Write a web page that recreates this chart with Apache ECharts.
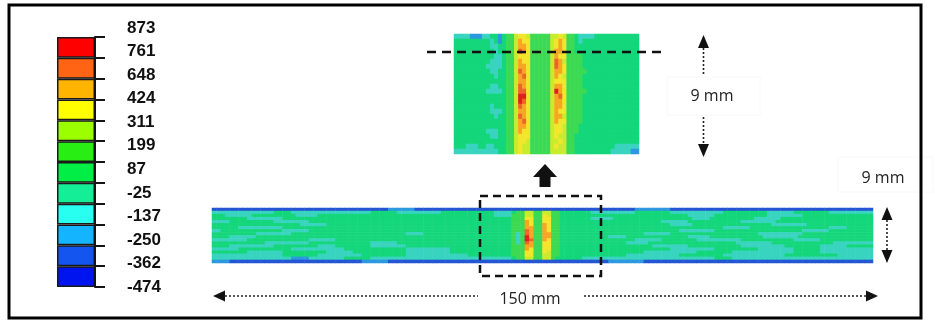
<!DOCTYPE html>
<html><head><meta charset="utf-8">
<script src="https://cdn.jsdelivr.net/npm/echarts@6/dist/echarts.min.js"></script>
<style>html,body{margin:0;padding:0;background:#fff}#c{width:935px;height:326px}</style>
</head><body><div id="c"></div>
<script>
// ---- legend (colour scale) ----
const legendLabels = ['873','761','648','424','311','199','87','-25','-137','-250','-362','-474'];
const legendColors = ['#ff0000','#ff6414','#ffb400','#ffff00','#9cff00','#28ee14','#00ee46','#14ee96','#28fff0','#14b4ff','#1455f0','#0014f0'];
// ---- contour levels: code -> representative stress value -> colour as seen in the plot ----
const levelCodes = '0123456789ab';
const levelValues = [-420,-306,-194,-81,31,143,255,368,536,705,817,873];
const levelBounds = [-474,-362,-250,-137,-25,87,199,311,424,648,761,873];
const levelColors = ['#1224d0','#2456d4','#2c98e0','#38d4c0','#14d67a','#3cda52','#84e232','#c8ec2a','#f2e62a','#f8a622','#f06226','#e01e1e'];

// ---- full strip (150 mm x 9 mm), 150 columns x 18 rows, run-length coded (code:count) ----
const stripRows = [
 '1:40,2:6,1:50,2:8,1:46',
 '3:14,4:4,3:18,4:6,3:10,4:12,3:8,4:14,3:10,4:8,3:12,4:10,3:6,4:8,3:10',
 '4:3,3:6,4:10,3:5,4:40,3:4,4:40,3:6,4:12,3:8,4:16',
 '4:8,3:8,4:70,3:5,4:18,3:4,4:10,3:6,4:21',
 '3:4,4:10,3:8,4:80,3:6,4:12,3:8,4:22',
 '4:20,3:6,4:78,3:5,4:18,3:8,4:15',
 '4:6,3:10,4:100,3:6,4:18,3:4,4:6',
 '3:2,4:14,3:6,4:84,3:8,4:20,3:6,4:10',
 '4:10,3:8,4:26,3:4,4:50,3:6,4:20,3:10,4:16',
 '4:4,3:6,4:80,3:4,4:14,3:5,4:12,3:8,4:17',
 '3:8,4:14,3:6,4:68,3:6,4:8,3:10,4:12,3:6,4:12',
 '4:12,3:10,4:14,3:6,4:52,3:5,4:20,3:8,4:14,3:9',
 '4:4,3:10,4:10,3:4,4:8,3:8,4:56,3:8,4:12,3:10,4:8,3:6,4:6',
 '3:6,4:12,3:12,4:14,3:10,4:50,3:10,4:10,3:8,4:6,3:12',
 '4:8,3:8,4:10,3:6,4:12,3:10,4:44,3:12,4:8,3:14,4:6,3:12',
 '3:16,4:8,3:10,4:10,3:14,4:36,3:12,4:10,3:14,4:12,3:8',
 '3:18,2:4,3:8,4:6,3:40,4:8,3:30,4:4,3:32',
 '2:4,1:30,2:6,1:50,2:8,1:52'
];
// weld lines in the strip: columns 68..79 ('.' keeps the strip value)
const stripWeldStart = 68;
const stripWeld = [
 '............',
 '455775577554',
 '555775587554',
 '555885588554',
 '555985588554',
 '555985598554',
 '555995598554',
 '555a95598554',
 '535a95599554',
 '535b95599554',
 '535ba5598554',
 '535a95588554',
 '555995588554',
 '555985588554',
 '555885587554',
 '555885577554',
 '455775577544',
 '............'
];

// ---- magnified inset: 46 columns x 24 rows (left | weld zone | right) ----
const insetLeft = ['3333222334424','4444444443424','4444444443344','4444444444344','4444444444334','4444444443334','4444444433334','4444444443344','4444444444344','4444444444444','4444444443344','4444444433334','4444444444444','4444444444444','4444444443444','4444444443334','4444444444344','4444444444444','4444444444444','4444444433344','4444444443344','4444444444444','4443334433444','3333333333344'];
const insetWeld = ['557887555557787554333','557988555557898554344','557998555557898554444','557a98555557998554444','557888555557988555544','557988555557a97555544','557998555557a98555544','557a98555557998555554','5579a8555557987555544','557998555557888555544','557a98555557998555544','557aa8555557b98555554','557bb85555579a8555544','557ba8555557998555544','557a98555557998555544','557998555557988555544','557a98555557997555544','5579a8555557988555544','557998555557887555444','557988555557887555444','557888555557877554444','557887555557787554444','557877555557877554444','557877555557777554444'];
const insetRight = ['344444444444','444444444444','444444444444','444444444444','444444444444','444444444444','444444444444','444444444444','444444444444','444444444444','444444444444','444444444444','444444444444','444444444444','444444444444','444444444444','444444444444','444444444444','444444444444','444444444444','444444444444','444444444444','444444333333','444443333322'];

const STRIP_COLS = 150, INSET_COLS = 46;

function decodeRLE(s){
  return s.split(',').map(p => { const [c, n] = p.split(':'); return c.repeat(+n); }).join('');
}
function fit(line, n){ while (line.length < n) line += '4'; return line.slice(0, n); }
function toValue(ch){ return levelValues[levelCodes.indexOf(ch)]; }

const stripData = [];
stripRows.forEach((rle, r) => {
  const base = fit(decodeRLE(rle), STRIP_COLS).split('');
  stripWeld[r].split('').forEach((ch, k) => { if (ch !== '.') base[stripWeldStart + k] = ch; });
  base.forEach((ch, c) => stripData.push([c, r, toValue(ch)]));
});
const insetData = [];
insetLeft.forEach((_, r) => {
  const line = fit(insetLeft[r] + insetWeld[r] + insetRight[r], INSET_COLS);
  line.split('').forEach((ch, c) => insetData.push([c, r, toValue(ch)]));
});

const idx = n => Array.from({length: n}, (_, i) => i);

const pieces = levelColors.map((col, i) => {
  if (i === 0) return {lt: levelBounds[1], color: col};
  if (i === levelColors.length - 1) return {gte: levelBounds[i], color: col};
  return {gte: levelBounds[i], lt: levelBounds[i + 1], color: col};
});

const dotted = {stroke: '#222', lineWidth: 1.6, lineDash: [2, 2]};
const solid = {fill: '#111'};
const labelFont = '16px "Open Sans", sans-serif';

const chart = echarts.init(document.getElementById('c'));
chart.setOption({
  animation: false,
  backgroundColor: '#fff',
  grid: [
    {left: 57, top: 37, width: 38, height: 250, containLabel: false, outerBoundsMode: 'none'},
    {left: 127, top: 28, width: 30, height: 259, containLabel: false, outerBoundsMode: 'none'},
    {left: 212, top: 208, width: 661, height: 55, containLabel: false, outerBoundsMode: 'none'},
    {left: 454, top: 34, width: 185, height: 120, containLabel: false, outerBoundsMode: 'none'}
  ],
  xAxis: [
    {gridIndex: 0, type: 'value', min: 0, max: 1, show: false},
    {gridIndex: 1, type: 'value', min: 0, max: 1, show: false},
    {gridIndex: 2, type: 'category', data: idx(STRIP_COLS), show: false},
    {gridIndex: 3, type: 'category', data: idx(INSET_COLS), show: false}
  ],
  yAxis: [
    {gridIndex: 0, type: 'category', data: legendLabels, inverse: true, position: 'right', z: 10,
     axisLine: {show: true, onZero: false, lineStyle: {color: '#151515', width: 2}},
     axisTick: {show: true, length: 10, lineStyle: {color: '#151515', width: 2}},
     axisLabel: {show: false}, splitLine: {show: false}},
    {gridIndex: 1, type: 'category', data: legendLabels, inverse: true, boundaryGap: false, position: 'left',
     axisLine: {show: false, onZero: false}, axisTick: {show: false}, splitLine: {show: false},
     axisLabel: {show: true, inside: true, margin: 0, color: '#111', fontFamily: 'Liberation Sans, Arial, sans-serif', fontWeight: 'bold', fontSize: 17, interval: 0}},
    {gridIndex: 2, type: 'category', data: idx(stripRows.length), inverse: true, show: false},
    {gridIndex: 3, type: 'category', data: idx(insetLeft.length), inverse: true, show: false}
  ],
  visualMap: {type: 'piecewise', show: false, seriesIndex: [1, 2], dimension: 2, pieces: pieces},
  series: [
    {type: 'bar', xAxisIndex: 0, yAxisIndex: 0, barWidth: '100%', barCategoryGap: 0, silent: true,
     itemStyle: {borderColor: '#1a1a1a', borderWidth: 1.5},
     data: legendColors.map(c => ({value: 1, itemStyle: {color: c}}))},
    {type: 'heatmap', xAxisIndex: 2, yAxisIndex: 2, data: stripData, silent: true, progressive: 0,
     emphasis: {disabled: true}},
    {type: 'heatmap', xAxisIndex: 3, yAxisIndex: 3, data: insetData, silent: true, progressive: 0,
     emphasis: {disabled: true}}
  ],
  graphic: [
    {type: 'rect', z: 100, shape: {x: 9, y: 5, width: 912, height: 313}, style: {fill: 'none', stroke: '#000', lineWidth: 3}},
    {type: 'line', z: 100, shape: {x1: 427, y1: 52, x2: 667, y2: 52}, style: {stroke: '#111', lineWidth: 2.5, lineDash: [9, 6]}},
    {type: 'rect', z: 100, shape: {x: 480, y: 196, width: 121, height: 80}, style: {fill: 'none', stroke: '#111', lineWidth: 2.5, lineDash: [8, 5]}},
    {type: 'polygon', z: 100, shape: {points: [[533,177],[545,164],[557,177],[550.5,177],[550.5,187],[539.5,187],[539.5,177]]}, style: solid},
    {type: 'polygon', z: 100, shape: {points: [[698,48],[703.5,35],[709,48]]}, style: solid},
    {type: 'line', z: 100, shape: {x1: 703.5, y1: 48, x2: 703.5, y2: 76}, style: dotted},
    {type: 'rect', z: 99, shape: {x: 667, y: 77, width: 93, height: 38}, style: {fill: '#fff', stroke: '#f8f8f8', lineWidth: 1}},
    {type: 'text', z: 100, x: 712, y: 96, style: {text: '9 mm', font: labelFont, fill: '#222', align: 'center', verticalAlign: 'middle'}},
    {type: 'line', z: 100, shape: {x1: 703.5, y1: 117, x2: 703.5, y2: 145}, style: dotted},
    {type: 'polygon', z: 100, shape: {points: [[698,144],[703.5,157],[709,144]]}, style: solid},
    {type: 'rect', z: 99, shape: {x: 838, y: 157, width: 95, height: 35}, style: {fill: '#fff', stroke: '#f8f8f8', lineWidth: 1}},
    {type: 'text', z: 100, x: 883, y: 178, style: {text: '9 mm', font: labelFont, fill: '#222', align: 'center', verticalAlign: 'middle'}},
    {type: 'polygon', z: 100, shape: {points: [[881.5,220],[887,207],[892.5,220]]}, style: solid},
    {type: 'line', z: 100, shape: {x1: 887, y1: 220, x2: 887, y2: 250}, style: dotted},
    {type: 'polygon', z: 100, shape: {points: [[881.5,250],[887,263],[892.5,250]]}, style: solid},
    {type: 'polygon', z: 100, shape: {points: [[213,296],[225,290.5],[225,301.5]]}, style: solid},
    {type: 'line', z: 100, shape: {x1: 225, y1: 296, x2: 478, y2: 296}, style: dotted},
    {type: 'text', z: 100, x: 530, y: 299, style: {text: '150 mm', font: labelFont, fill: '#222', align: 'center', verticalAlign: 'middle'}},
    {type: 'line', z: 100, shape: {x1: 584, y1: 296, x2: 866, y2: 296}, style: dotted},
    {type: 'polygon', z: 100, shape: {points: [[866,290.5],[878,296],[866,301.5]]}, style: solid}
  ]
});
</script></body></html>
